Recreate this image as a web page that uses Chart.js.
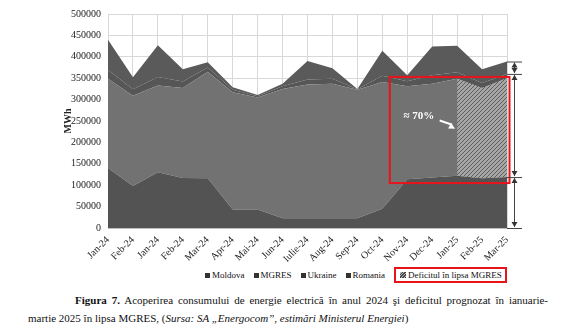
<!DOCTYPE html>
<html>
<head>
<meta charset="utf-8">
<script src="https://cdn.jsdelivr.net/npm/chart.js@4.4.0/dist/chart.umd.min.js"></script>
<style>
  body { margin: 0; background: #fff; width: 585px; height: 324px; overflow: hidden; position: relative;
         font-family: "Liberation Serif", "Times New Roman", serif; color: #111; }
  #wrap { position: absolute; left: 0; top: 0; width: 585px; height: 262px; }
  #legend { position: absolute; top: 267px; left: 205px; display: flex; align-items: center; font-size: 9px; white-space: nowrap; }
  #legend .item { display: flex; align-items: center; margin-right: 9px; }
  #legend .sw { width: 5px; height: 5px; margin-right: 2px; }
  #legend .boxed { border: 2px solid #e8141b; padding: 1px 3px 1px 4px; margin-right: 0; }
  .cap { position: absolute; font-size: 11px; white-space: nowrap; }
  #cap1 { left: 75px; top: 294px; width: 473px; text-align: justify; text-align-last: justify; white-space: normal; }
  #cap2 { left: 28px; top: 312px; }
</style>
</head>
<body>
<div id="wrap"><canvas id="energyChart"></canvas></div>
<div id="legend"></div>
<div id="cap1" class="cap"><b>Figura 7.</b> Acoperirea consumului de energie electrică în anul 2024 şi deficitul prognozat în ianuarie-</div>
<div id="cap2" class="cap">martie 2025 în lipsa MGRES, (<i>Sursa: SA „Energocom”, estimări Ministerul Energiei</i>)</div>
<script>
  // Lunile (etichetele axei X), exact cum apar pe grafic
  const months = ["Jan-24", "Feb-24", "Jan-24", "Feb-24", "Mar-24", "Apr-24", "Mai-24", "Jun-24",
    "Iulie-24", "Aug-24", "Sep-24", "Oct-24", "Nov-24", "Dec-24", "Jan-25", "Feb-25", "Mar-25"];

  // Surse de acoperire a consumului, MWh
  const moldova = [140000, 98000, 130000, 117000, 116000, 43000, 43000, 23000, 23000, 23000, 23000,
    45000, 114000, 118000, 122000, 116000, 119000];
  const mgres = [209000, 211000, 203000, 210000, 249000, 274000, 262000, 302000, 312000, 314000, 300000,
    296000, 217000, 219000, 227000, 211000, 231000];
  const ukraine = [20000, 15000, 20000, 15000, 10000, 6000, 3000, 6000, 12000, 12000, 1000,
    15000, 12000, 20000, 15000, 12000, 10000];
  const romania = [71000, 28000, 74000, 29000, 12000, 6000, 3000, 6000, 43000, 24000, 1000,
    58000, 14000, 67000, 62000, 32000, 29000];
  // Deficitul prognozat fara MGRES (ian-mar 2025)
  const deficit = [null, null, null, null, null, null, null, null, null, null, null,
    null, null, null, 227000, 211000, 231000];

  const yTicks = [0, 50000, 100000, 150000, 200000, 250000, 300000, 350000, 400000, 450000, 500000];

  const colors = { moldova: "#535353", mgres: "#727272", ukraine: "#565656", romania: "#5a5a5a" };

  // hasura pentru deficit
  function makeHatch() {
    const c = document.createElement("canvas");
    c.width = 4; c.height = 4;
    const g = c.getContext("2d");
    g.fillStyle = "#a6a6a6";
    g.fillRect(0, 0, 4, 4);
    g.strokeStyle = "#5e5e5e";
    g.lineWidth = 1;
    g.beginPath();
    g.moveTo(-1, 5); g.lineTo(5, -1);
    g.moveTo(-1, 1); g.lineTo(1, -1);
    g.moveTo(3, 5); g.lineTo(5, 3);
    g.stroke();
    return g.createPattern(c, "repeat");
  }
  const hatch = makeHatch();

  function arrowHead(ctx, x, y, dir, size) {
    // dir: 1 = spre jos, -1 = spre sus
    ctx.beginPath();
    ctx.moveTo(x, y);
    ctx.lineTo(x - size * 0.6, y - dir * size);
    ctx.lineTo(x + size * 0.6, y - dir * size);
    ctx.closePath();
    ctx.fill();
  }

  const annotations = {
    id: "annotations",
    afterDatasetsDraw(chart) {
      const { ctx, scales: { x, y } } = chart;
      ctx.save();

      // chenarul rosu din jurul perioadei cu deficit
      const bx1 = x.getPixelForValue(11.3), bx2 = x.getPixelForValue(16.1);
      const by1 = y.getPixelForValue(353000), by2 = y.getPixelForValue(105000);
      ctx.strokeStyle = "#e8141b";
      ctx.lineWidth = 2;
      ctx.strokeRect(bx1, by1, bx2 - bx1, by2 - by1);

      // eticheta ≈ 70% si sageata
      ctx.fillStyle = "#fff";
      ctx.strokeStyle = "#fff";
      ctx.font = "bold 11px 'Liberation Serif', serif";
      ctx.textAlign = "left";
      ctx.textBaseline = "middle";
      const tx = x.getPixelForValue(11.85), ty = y.getPixelForValue(262000);
      ctx.fillText("≈ 70%", tx, ty);
      const ax1 = x.getPixelForValue(13.3), ay1 = y.getPixelForValue(251000);
      const ax2 = x.getPixelForValue(13.92), ay2 = y.getPixelForValue(232000);
      ctx.lineWidth = 2;
      ctx.beginPath();
      ctx.moveTo(ax1, ay1);
      ctx.lineTo(ax2 - 3, ay2 - 4);
      ctx.stroke();
      const ang = Math.atan2(ay2 - ay1, ax2 - ax1);
      ctx.beginPath();
      ctx.moveTo(ax2, ay2);
      ctx.lineTo(ax2 - 7 * Math.cos(ang - 0.45), ay2 - 7 * Math.sin(ang - 0.45));
      ctx.lineTo(ax2 - 7 * Math.cos(ang + 0.45), ay2 - 7 * Math.sin(ang + 0.45));
      ctx.closePath();
      ctx.fill();

      // cotele din dreapta graficului
      const last = months.length - 1;
      const total = moldova[last] + mgres[last] + ukraine[last] + romania[last];
      const levels = [total, moldova[last] + mgres[last] + ukraine[last], moldova[last], 0];
      const px = x.getPixelForValue(last) + 7;
      const ys = levels.map(v => y.getPixelForValue(v));
      ctx.strokeStyle = "#444";
      ctx.fillStyle = "#333";
      ctx.lineWidth = 1;
      ys.forEach(py => {
        ctx.beginPath();
        ctx.moveTo(x.getPixelForValue(last), py + 0.5);
        ctx.lineTo(px + 8, py + 0.5);
        ctx.stroke();
      });
      for (let i = 0; i < ys.length - 1; i++) {
        const top = ys[i] + 1, bot = ys[i + 1] - 1;
        ctx.beginPath();
        ctx.moveTo(px + 0.5, top);
        ctx.lineTo(px + 0.5, bot);
        ctx.stroke();
        arrowHead(ctx, px + 0.5, top, -1, 5);
        arrowHead(ctx, px + 0.5, bot, 1, 5);
      }
      ctx.restore();
    }
  };

  const ctx = document.getElementById("energyChart").getContext("2d");
  const chart = new Chart(ctx, {
    type: "line",
    data: {
      labels: months,
      datasets: [
        { label: "Moldova", data: moldova, backgroundColor: colors.moldova, fill: "origin", stack: "a" },
        { label: "MGRES", data: mgres, backgroundColor: colors.mgres, fill: "-1", stack: "a" },
        { label: "Ukraine", data: ukraine, backgroundColor: colors.ukraine, fill: "-1", stack: "a" },
        { label: "Romania", data: romania, backgroundColor: colors.romania, fill: "-1", stack: "a" },
        // baza pentru deficit (nivelul Moldova in 2025), nu apare in legenda
        { label: "_base", data: moldova.map((v, i) => deficit[i] === null ? null : v), fill: false, stack: "b", order: -2 },
        { label: "Deficitul în lipsa MGRES", data: deficit, backgroundColor: hatch, fill: "-1", stack: "b", order: -1 }
      ].map(d => Object.assign({ borderColor: "transparent", borderWidth: 0, pointRadius: 0, tension: 0 }, d))
    },
    options: {
      responsive: true,
      maintainAspectRatio: false,
      animation: false,
      layout: { padding: { left: 60, right: 78, top: 14, bottom: 0 } },
      plugins: {
        legend: { display: false },
        tooltip: { enabled: false }
      },
      scales: {
        x: {
          grid: { color: "#d8d8d8", drawTicks: false },
          border: { color: "#bdbdbd" },
          afterFit: s => { s.height = 34; },
          ticks: {
            color: "#222", padding: 6, minRotation: 45, maxRotation: 45, autoSkip: false,
            font: { family: "'Liberation Serif', serif", size: 10 }
          }
        },
        y: {
          stacked: true,
          min: 0, max: 500000,
          afterBuildTicks: s => { s.ticks = yTicks.map(v => ({ value: v })); },
          afterFit: s => { s.width = 48; },
          grid: { color: "#d8d8d8", drawTicks: false },
          border: { display: false },
          title: { display: true, text: "MWh", color: "#222", padding: 2,
            font: { family: "'Liberation Serif', serif", size: 10, weight: "bold" } },
          ticks: {
            color: "#222", padding: 7,
            font: { family: "'Liberation Serif', serif", size: 10 },
            callback: v => String(v)
          }
        }
      }
    },
    plugins: [annotations]
  });

  // legenda sub grafic
  const legend = document.getElementById("legend");
  chart.data.datasets.forEach(d => {
    if (d.label.startsWith("_")) return;
    const item = document.createElement("span");
    item.className = "item";
    const sw = document.createElement("span");
    sw.className = "sw";
    if (d.data === deficit) {
      item.classList.add("boxed");
      sw.style.background = "repeating-linear-gradient(-45deg, #444 0 1px, #bbb 1px 2px)";
      sw.style.width = "6px"; sw.style.height = "6px";
    } else {
      sw.style.background = "#333";
    }
    item.appendChild(sw);
    item.appendChild(document.createTextNode(d.label));
    legend.appendChild(item);
  });
</script>
</body>
</html>
